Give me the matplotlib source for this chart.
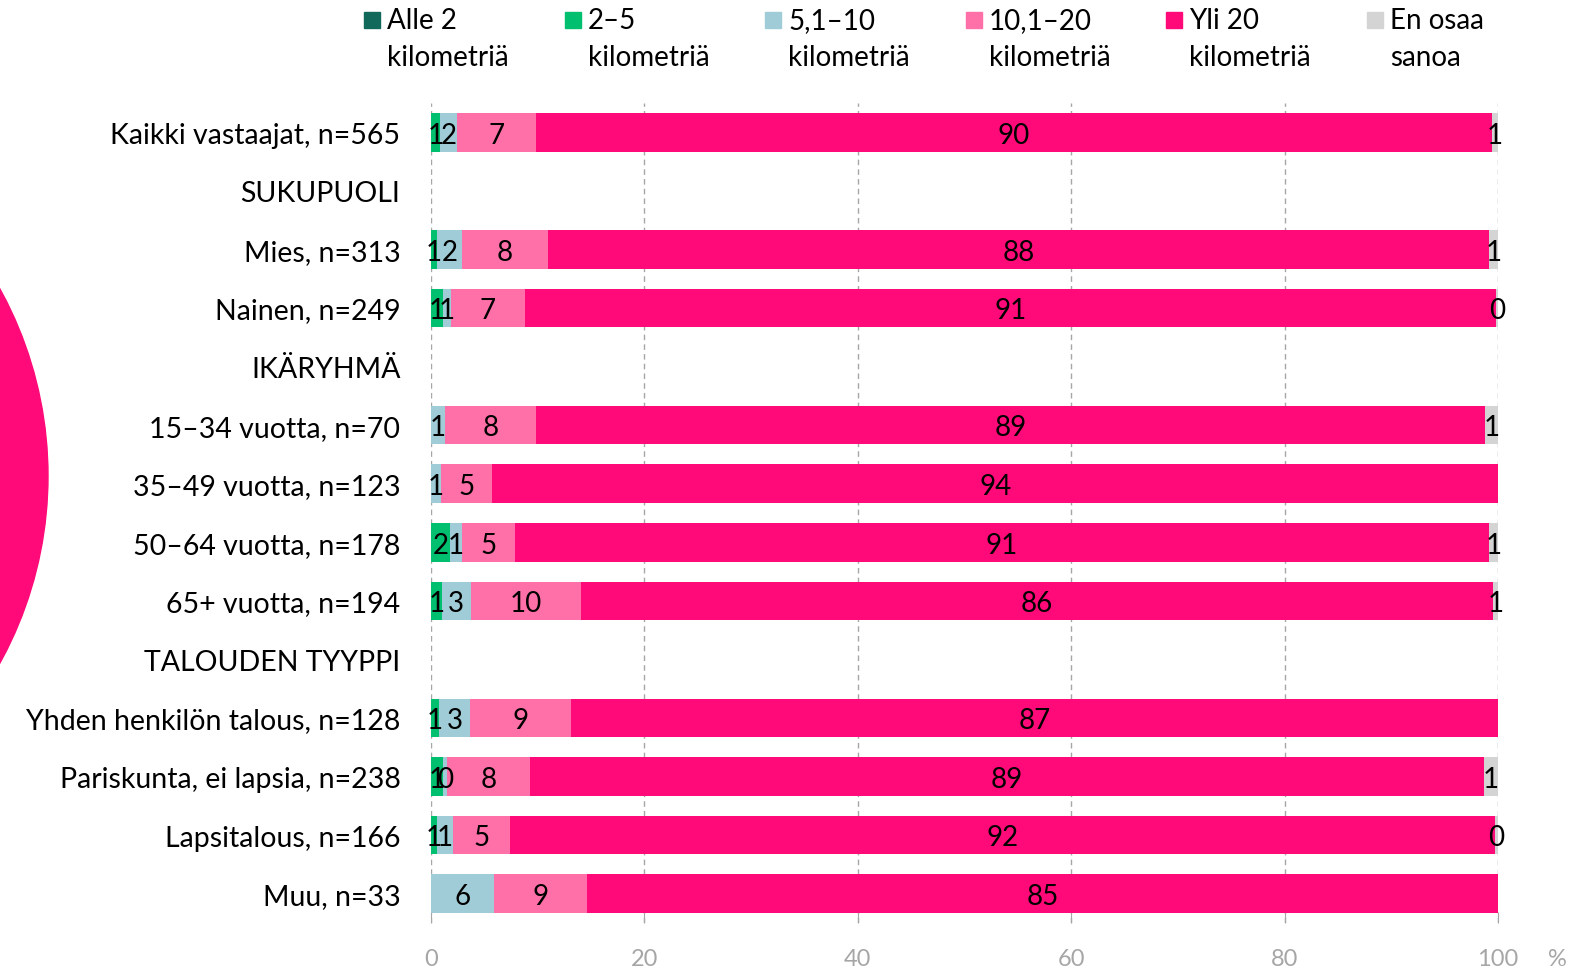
import matplotlib
matplotlib.use("Agg")
import matplotlib.pyplot as plt
from matplotlib.patches import Circle, Rectangle
import numpy as np

# rivit (ylhäältä alas), otsikkorivit ilman palkkeja
rivit = ['Kaikki vastaajat, n=565', 'SUKUPUOLI', 'Mies, n=313', 'Nainen, n=249',
         'IKÄRYHMÄ', '15–34 vuotta, n=70', '35–49 vuotta, n=123', '50–64 vuotta, n=178',
         '65+ vuotta, n=194', 'TALOUDEN TYYPPI', 'Yhden henkilön talous, n=128',
         'Pariskunta, ei lapsia, n=238', 'Lapsitalous, n=166', 'Muu, n=33']

sarjat = ['Alle 2\nkilometriä', '2–5\nkilometriä', '5,1–10\nkilometriä',
          '10,1–20\nkilometriä', 'Yli 20\nkilometriä', 'En osaa\nsanoa']
varit = ['#10695A', '#00BF6F', '#9FCCD6', '#FF70A8', '#FF0A78', '#D4D4D4']

nan = np.nan
alle2 = [0, nan, 0, 0, nan, 0, 0, 0, 0, nan, 0, 0, 0, 0]
v2_5 = [0.85, nan, 0.53, 1.1, nan, 0, 0, 1.8, 1.03, nan, 0.75, 1.13, 0.56, 0]
v5_10 = [1.6, nan, 2.37, 0.75, nan, 1.34, 0.9, 1.1, 2.69, nan, 2.91, 0.37, 1.47, 5.9]
v10_20 = [7.4, nan, 8.05, 6.97, nan, 8.48, 4.85, 4.97, 10.3, nan, 9.47, 7.76, 5.38, 8.75]
yli20 = [89.55, nan, 88.2, 91.0, nan, 89.0, 94.25, 91.25, 85.5, nan, 86.87, 89.4, 92.3, 85.35]
eos = [0.6, nan, 0.85, 0.2, nan, 1.18, 0, 0.88, 0.52, nan, 0, 1.34, 0.3, 0]

xticks = [0, 20, 40, 60, 80, 100]

plt.rcParams['font.family'] = ['Lato', 'DejaVu Sans']

W, H = 1586, 970
fig = plt.figure(figsize=(W / 100, H / 100), dpi=100)
ax = fig.add_axes([431 / W, 1 - 924 / H, (1498 - 431) / W, (924 - 104) / H])

# iso ympyrä vasemmassa reunassa
fig.patches.append(Circle((-3.40, (H - 477) / 100), 3.88, transform=fig.dpi_scale_trans,
                          color='#FF0A78', zorder=0))

y = np.arange(len(rivit))
vasen = np.zeros(len(rivit))
for arvot, vari in zip([alle2, v2_5, v5_10, v10_20, yli20, eos], varit):
    arvot = np.array(arvot, dtype=float)
    ax.barh(y, arvot, left=vasen, height=0.66, color=vari, zorder=2)
    for yi, v, l in zip(y, arvot, vasen):
        if np.isfinite(v) and v > 0:
            ax.text(l + v / 2, yi + 0.04, str(int(np.floor(v + 0.5))), ha='center', va='center',
                    fontsize=20, color='black', zorder=3)
    vasen = vasen + np.nan_to_num(arvot)

ax.set_xlim(0, 100)
ax.set_ylim(len(rivit) - 0.5, -0.5)
ax.set_yticks(y)
ax.set_yticklabels(rivit, fontsize=20.5)
ax.tick_params(axis='y', length=0, pad=22)
ax.set_xticks(xticks)
ax.set_xticklabels([str(t) for t in xticks])
ax.tick_params(axis='x', direction='in', length=8, color='#A6A6A6', labelcolor='#A6A6A6',
               labelsize=17, pad=18)
for s in ax.spines.values():
    s.set_visible(False)
ax.grid(axis='x', color='#A6A6A6', linestyle=(0, (4, 3)), linewidth=1, zorder=0)
ax.set_axisbelow(True)

fig.text(1557 / W, 1 - 960 / H, '%', color='#A6A6A6', fontsize=17, ha='center', va='center')

# selite käsin ylälaitaan
for i, (nimi, vari) in enumerate(zip(sarjat, varit)):
    x0 = 364 + i * 200.6
    fig.patches.append(Rectangle((x0 / W, 1 - 29 / H), 16 / W, 16 / H,
                                 transform=fig.transFigure, color=vari))
    rivi1, rivi2 = nimi.split('\n')
    fig.text((x0 + 23) / W, 1 - 21 / H, rivi1, fontsize=20, va='center', ha='left')
    fig.text((x0 + 23) / W, 1 - 58 / H, rivi2, fontsize=20, va='center', ha='left')

fig.savefig('out.png', dpi=100)
